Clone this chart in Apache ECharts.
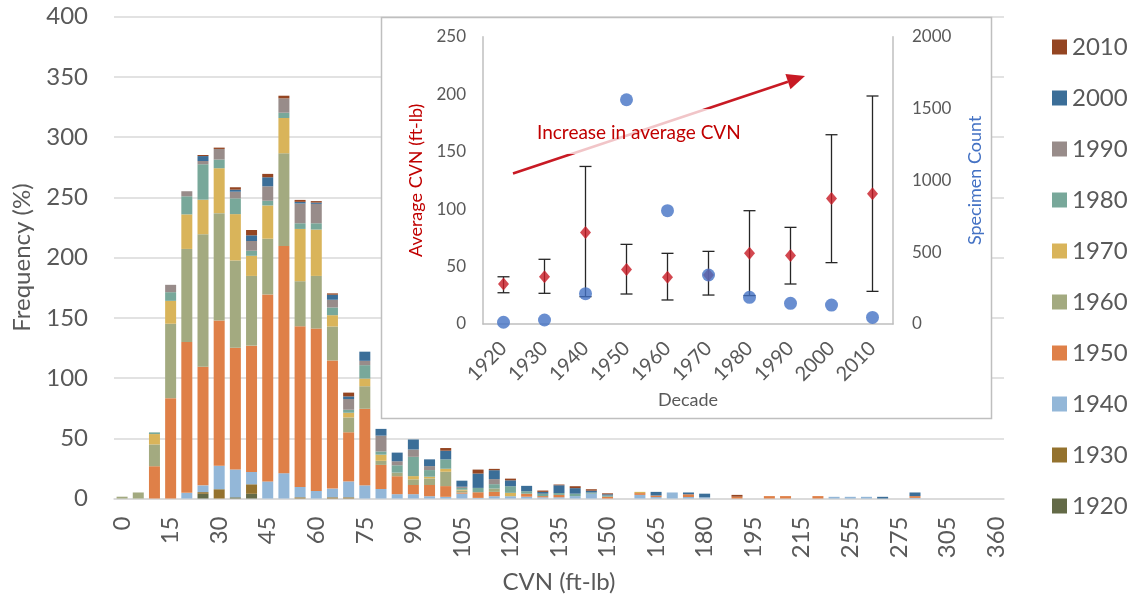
<!DOCTYPE html>
<html>
<head>
<meta charset="utf-8">
<script src="https://cdn.jsdelivr.net/npm/echarts/dist/echarts.min.js"></script>
<style>
  html, body { margin: 0; padding: 0; background: #fff; }
  #chart { width: 1138px; height: 602px; }
</style>
</head>
<body>
<div id="chart"></div>
<script>
// CVN bins (ft-lb)
const cvnBins = [
  0, 5, 10, 15, 20, 25, 30, 35, 40, 45,
  50, 55, 60, 65, 70, 75, 80, 85, 90, 95,
  100, 105, 110, 115, 120, 125, 130, 135, 140, 145,
  150, 155, 160, 165, 170, 175, 180, 185, 190, 195,
  200, 205, 215, 225, 235, 255, 260, 270, 275, 280,
  290, 305, 320, 340, 360
];

// Frequency per bin for each decade
const f1920 = [
  0, 0, 0, 0, 0, 3.9, 0, 1, 3.9, 0,
  0, 0, 0, 0, 0, 0, 0, 0, 0, 0,
  0, 0, 0, 0, 0, 0, 0, 0, 0, 0,
  0, 0, 0, 0, 0, 0, 0, 0, 0, 0,
  0, 0, 0, 0, 0, 0, 0, 0, 0, 0,
  0, 0, 0, 0, 0
];
const f1930 = [
  0, 0, 0, 0, 0, 1.4, 7.7, 0, 7.9, 0,
  0, 1, 0, 1, 1, 0, 0, 0, 0, 0,
  0, 0, 0, 0, 0, 0, 0, 0, 0, 0,
  0, 0, 0, 0, 0, 0, 0, 0, 0, 0,
  0, 0, 0, 0, 0, 0, 0, 0, 0, 0,
  0, 0, 0, 0, 0
];
const f1940 = [
  0, 0, 0, 0, 4.7, 5.6, 19.5, 23.1, 10.3, 14.2,
  21, 8.6, 6.3, 7.2, 13.2, 10.9, 7.9, 3.6, 3.6, 1.9,
  1.4, 4, 0.5, 1.9, 1.9, 1.5, 1, 1, 2, 4,
  0, 0, 3, 1.2, 5, 1.2, 1, 0, 0, 0,
  0, 0, 0, 0, 1.4, 1.4, 1.4, 0, 0, 0.5,
  0, 0, 0, 0, 0
];
const f1950 = [
  0, 0, 26.8, 83.3, 125.3, 98.4, 120.6, 101.1, 104.8, 155.2,
  188.6, 133.4, 134.8, 106.4, 40.8, 63.6, 20, 14.9, 7.6, 9.3,
  8.9, 1, 4.7, 3.6, 0, 2.5, 1, 2, 0, 0,
  1.5, 0, 1.5, 1.3, 0, 2.3, 0, 0, 1.5, 0,
  2, 2, 0, 2, 0, 0, 0, 0, 0, 1.5,
  0, 0, 0, 0, 0
];
const f1960 = [
  1.5, 5, 18.1, 61.8, 77.2, 110.1, 89.1, 72.4, 57.9, 46.3,
  77, 37.4, 43.7, 28.2, 12.3, 18.7, 3.4, 3, 4.7, 5.5,
  11.9, 1.5, 0, 2.8, 0, 0, 0, 0, 0, 0,
  0, 0, 0, 0, 0, 0, 0, 0, 0, 0,
  0, 0, 0, 0, 0, 0, 0, 0, 0, 0,
  0, 0, 0, 0, 0
];
const f1970 = [
  0, 0, 8.6, 19, 28.7, 28.7, 37.3, 38.5, 16.7, 27.6,
  29.3, 43.4, 38.5, 9.4, 3.9, 6.4, 5.1, 0, 2.7, 1.4,
  2.5, 0.8, 0, 0, 2.8, 0, 0, 0, 0, 0,
  0, 0, 1, 0, 0, 0, 0, 0, 0, 0,
  0, 0, 0, 0, 0, 0, 0, 0, 0, 0,
  0, 0, 0, 0, 0
];
const f1980 = [
  0, 0, 1.4, 7.2, 15, 29.4, 7.2, 13.1, 4.2, 3.9,
  4.4, 4.7, 5.2, 6.4, 2.5, 11.1, 2.7, 6.1, 16, 5.5,
  7.8, 1.5, 3.6, 3.6, 5.5, 2, 2, 1.5, 2, 1,
  1, 0, 0, 0, 0, 0, 0, 0, 0, 0,
  0, 0, 0, 0, 0, 0, 0, 0, 0, 0,
  0, 0, 0, 0, 0
];
const f1990 = [
  0, 0, 0, 6.1, 4.2, 2.7, 8.8, 5.5, 8.1, 12,
  11.9, 16.4, 16.1, 6.4, 8.9, 3.6, 13.1, 3.3, 6.1, 3.3,
  0, 1, 0, 4.2, 0, 0, 0, 0, 0, 0,
  0, 0, 0, 0, 0, 0, 0, 0, 0, 0,
  0, 0, 0, 0, 0, 0, 0, 0, 0, 0,
  0, 0, 0, 0, 0
];
const f2000 = [
  0, 0, 0, 0, 0, 4.1, 0, 1.7, 4.7, 7.5,
  0, 1.4, 1.1, 4.2, 2.2, 7.6, 5.6, 7.2, 8.3, 5.6,
  7.2, 5, 11.9, 7.4, 4.9, 4.5, 1.5, 6.5, 4.6, 1.5,
  1, 0, 0, 3, 0, 1.5, 3, 0, 0, 0,
  0, 0, 0, 0, 0, 0, 0, 1.4, 0, 3,
  0, 0, 0, 0, 0
];
const f2010 = [
  0, 0, 0, 0, 0, 0.9, 1.1, 2, 4.4, 2.8,
  2.2, 1.6, 1.2, 1.1, 3.1, 0, 0, 0, 0, 0,
  2.2, 0, 3.3, 1.1, 1.4, 0, 1.1, 0.6, 1.6, 1.2,
  0.8, 0, 0, 0, 0, 0, 0, 0, 1.5, 0,
  0, 0, 0, 0, 0, 0, 0, 0, 0, 0,
  0, 0, 0, 0, 0
];

const decadeNames = ['1920', '1930', '1940', '1950', '1960', '1970', '1980', '1990', '2000', '2010'];
const decadeFreqs = [f1920, f1930, f1940, f1950, f1960, f1970, f1980, f1990, f2000, f2010];
const decadeColors = ['#636A47', '#94722E', '#93B7D8', '#DF8048', '#A3AA80',
                      '#D9B45A', '#78A89A', '#988C8A', '#3B6E98', '#944522'];

// Inset: statistics by decade
const insetDecades = ['1920', '1930', '1940', '1950', '1960', '1970', '1980', '1990', '2000', '2010'];
const avgCvn   = [34.8, 41.1, 79.7, 47.5, 40.6, 42.6, 61.5, 59.5, 109.3, 113.4];
const cvnLow   = [27.2, 26.7, 23.8, 26.1, 20.9, 25.2, 24.7, 34.8, 53.4, 28.4];
const cvnHigh  = [41.1, 56.3, 137.1, 69.3, 61.5, 63.2, 98.6, 84.1, 164.7, 198.4];
const specimenCount = [12, 28, 211, 1561, 789, 341, 186, 144, 132, 46];

const FONT = 'Lato';
const GREY_TEXT = '#595959';
const RED = '#C81A24';

const chart = echarts.init(document.getElementById('chart'), null, { renderer: 'canvas' });

const barSeries = decadeNames.map((name, i) => ({
  name: name,
  type: 'bar',
  stack: 'freq',
  xAxisIndex: 0,
  yAxisIndex: 0,
  barWidth: 11,
  itemStyle: { color: decadeColors[i] },
  data: decadeFreqs[i],
  z: 2
}));

// Arrow geometry for the trend annotation (pixel space)
const arrowStart = [513, 173.5];
const arrowTip = [805, 76];
const headLen = 18, headHalf = 8;
const dx = arrowTip[0] - arrowStart[0], dy = arrowTip[1] - arrowStart[1];
const len = Math.sqrt(dx * dx + dy * dy);
const ux = dx / len, uy = dy / len;
const base = [arrowTip[0] - ux * headLen, arrowTip[1] - uy * headLen];
const px = -uy, py = ux;

const plainNumber = v => String(v);

const option = {
  animation: false,
  textStyle: { fontFamily: FONT },
  legend: {
    data: decadeNames.slice().reverse(),
    orient: 'vertical',
    left: 1047,
    top: 30,
    itemGap: 27,
    itemWidth: 15,
    itemHeight: 15,
    icon: 'rect',
    textStyle: { fontSize: 24, color: GREY_TEXT, fontFamily: FONT }
  },
  grid: [
    { left: 114, right: 134, top: 16.7, bottom: 103.5 },
    { left: 483, right: 245, top: 36.7, bottom: 278 }
  ],
  xAxis: [
    {
      type: 'category',
      gridIndex: 0,
      data: cvnBins.map(String),
      boundaryGap: true,
      axisLine: { lineStyle: { color: '#D9D9D9', width: 1.5 } },
      axisTick: { show: false },
      axisLabel: {
        interval: 2, rotate: 90, fontSize: 24, color: GREY_TEXT, margin: 18, fontFamily: FONT
      },
      name: 'CVN (ft-lb)',
      nameLocation: 'middle',
      nameGap: 72,
      nameTextStyle: { fontSize: 24, color: GREY_TEXT, fontFamily: FONT }
    },
    {
      type: 'category',
      gridIndex: 1,
      data: insetDecades,
      boundaryGap: true,
      z: 60,
      axisLine: { lineStyle: { color: '#BFBFBF', width: 1.5 } },
      axisTick: { show: false },
      axisLabel: { interval: 0, rotate: 45, fontSize: 20, color: GREY_TEXT, margin: 21, fontFamily: FONT },
      name: 'Decade',
      nameLocation: 'middle',
      nameGap: 67,
      nameTextStyle: { fontSize: 18, color: GREY_TEXT, fontFamily: FONT }
    }
  ],
  yAxis: [
    {
      type: 'value',
      gridIndex: 0,
      min: 0, max: 400, interval: 50,
      axisLine: { show: false },
      axisTick: { show: false },
      axisLabel: { fontSize: 24, color: GREY_TEXT, margin: 26, fontFamily: FONT },
      splitLine: { lineStyle: { color: '#D9D9D9', width: 1.5 } },
      name: 'Frequency (%)',
      nameLocation: 'middle',
      nameRotate: 90,
      nameGap: 80,
      nameTextStyle: { fontSize: 24, color: GREY_TEXT, fontFamily: FONT }
    },
    {
      type: 'value',
      gridIndex: 1,
      position: 'left',
      min: 0, max: 250, interval: 50,
      z: 60,
      axisLine: { show: true, lineStyle: { color: '#BFBFBF', width: 1.5 } },
      axisTick: { show: false },
      axisLabel: { fontSize: 17, color: GREY_TEXT, margin: 17, fontFamily: FONT, formatter: plainNumber },
      splitLine: { show: false },
      name: 'Average CVN (ft-lb)',
      nameLocation: 'middle',
      nameRotate: 90,
      nameGap: 58,
      nameTextStyle: { fontSize: 18, color: '#C00000', fontFamily: FONT }
    },
    {
      type: 'value',
      gridIndex: 1,
      position: 'right',
      min: 0, max: 2000, interval: 500,
      z: 60,
      axisLine: { show: true, lineStyle: { color: '#BFBFBF', width: 1.5 } },
      axisTick: { show: false },
      axisLabel: { fontSize: 17, color: GREY_TEXT, margin: 19, fontFamily: FONT, formatter: plainNumber },
      splitLine: { show: false },
      name: 'Specimen Count',
      nameLocation: 'middle',
      nameRotate: 90,
      nameGap: 73,
      nameTextStyle: { fontSize: 18, color: '#4472C4', fontFamily: FONT }
    }
  ],
  graphic: [
    {
      type: 'rect',
      z: 50,
      shape: { x: 381.5, y: 17.5, width: 610, height: 401 },
      style: { fill: '#ffffff', stroke: '#BFBFBF', lineWidth: 1.5 }
    },
    {
      type: 'line',
      z: 70,
      shape: { x1: arrowStart[0], y1: arrowStart[1], x2: base[0], y2: base[1] },
      style: { stroke: RED, lineWidth: 2.5 }
    },
    {
      type: 'polygon',
      z: 70,
      shape: {
        points: [
          arrowTip,
          [base[0] + px * headHalf, base[1] + py * headHalf],
          [base[0] - px * headHalf, base[1] - py * headHalf]
        ]
      },
      style: { fill: RED }
    },
    {
      type: 'rect',
      z: 71,
      shape: { x: 535, y: 109, width: 225, height: 45 },
      style: { fill: 'rgba(255,255,255,0.75)' }
    },
    {
      type: 'text',
      z: 72,
      x: 537,
      y: 133,
      style: {
        text: 'Increase in average CVN',
        fill: '#C00000',
        font: '19px Lato',
        textVerticalAlign: 'middle',
        verticalAlign: 'middle'
      }
    }
  ],
  series: barSeries.concat([
    {
      name: 'CVN range',
      type: 'custom',
      xAxisIndex: 1,
      yAxisIndex: 1,
      z: 61,
      data: insetDecades.map((d, i) => [i, cvnLow[i], cvnHigh[i]]),
      encode: { x: 0, y: [1, 2] },
      renderItem: function (params, api) {
        const lo = api.coord([api.value(0), api.value(1)]);
        const hi = api.coord([api.value(0), api.value(2)]);
        const cap = 6;
        const st = { stroke: '#262626', lineWidth: 1.3 };
        return {
          type: 'group',
          children: [
            { type: 'line', shape: { x1: lo[0], y1: lo[1], x2: hi[0], y2: hi[1] }, style: st },
            { type: 'line', shape: { x1: lo[0] - cap, y1: lo[1], x2: lo[0] + cap, y2: lo[1] }, style: st },
            { type: 'line', shape: { x1: hi[0] - cap, y1: hi[1], x2: hi[0] + cap, y2: hi[1] }, style: st }
          ]
        };
      }
    },
    {
      name: 'Average CVN',
      type: 'scatter',
      xAxisIndex: 1,
      yAxisIndex: 1,
      z: 62,
      symbol: 'diamond',
      symbolSize: [11, 13],
      itemStyle: { color: RED },
      data: avgCvn
    },
    {
      name: 'Specimen Count',
      type: 'scatter',
      xAxisIndex: 1,
      yAxisIndex: 2,
      z: 63,
      symbol: 'circle',
      symbolSize: 13,
      itemStyle: { color: '#4472C4' },
      data: specimenCount
    }
  ])
};

chart.setOption(option);
</script>
</body>
</html>
